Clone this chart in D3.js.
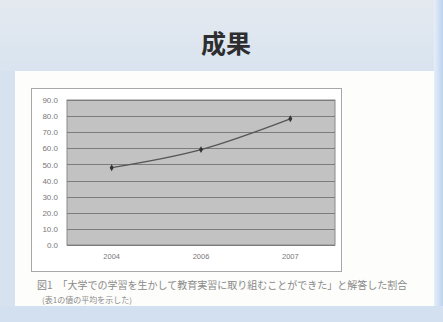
<!DOCTYPE html>
<html><head><meta charset="utf-8">
<script src="https://cdn.jsdelivr.net/npm/d3@7"></script>
<style>html,body{margin:0;padding:0;background:#fff;}svg{display:block;}</style>
</head><body>
<script>
const categories = ["2004", "2006", "2007"];
const values = [48.0, 59.2, 78.3];
const yTicks = [0, 10, 20, 30, 40, 50, 60, 70, 80, 90];
const title = "成果";
const captionLines = ["図1　「大学での学習を生かして教育実習に取り組むことができた」と解答した割合", "(表1の値の平均を示した)"];

const W = 443, H = 322;
const svg = d3.select("body").append("svg").attr("width", W).attr("height", H);
const defs = svg.append("defs");
const g1 = defs.append("linearGradient").attr("id","topband").attr("x1",0).attr("y1",0).attr("x2",0).attr("y2",1);
g1.append("stop").attr("offset","0%").attr("stop-color","#e4e9ef");
g1.append("stop").attr("offset","100%").attr("stop-color","#d9e4f0");
const g2 = defs.append("linearGradient").attr("id","rightband").attr("x1",0).attr("y1",0).attr("x2",1).attr("y2",0);
g2.append("stop").attr("offset","0%").attr("stop-color","#e6eef8");
g2.append("stop").attr("offset","100%").attr("stop-color","#bcd3ee");

// slide background
svg.append("rect").attr("width",W).attr("height",H).attr("fill","#d6e2ef");
svg.append("rect").attr("x",0).attr("y",0).attr("width",W).attr("height",71).attr("fill","url(#topband)");
svg.append("rect").attr("x",15).attr("y",71).attr("width",421).attr("height",235).attr("fill","#fdfdfb");
svg.append("rect").attr("x",434).attr("y",0).attr("width",9).attr("height",H).attr("fill","url(#rightband)");
svg.append("rect").attr("x",0).attr("y",306).attr("width",W).attr("height",16).attr("fill","#d3e0ef");

svg.append("text").attr("x",226).attr("y",53).attr("text-anchor","middle")
  .attr("font-family","Noto Sans CJK JP").attr("font-weight","bold").attr("font-size",25)
  .attr("fill","#2e2e2e").text(title);

// chart frame
svg.append("rect").attr("x",31.5).attr("y",88.5).attr("width",310).attr("height",183)
  .attr("fill","#ffffff").attr("stroke","#a8a8a8").attr("stroke-width",1);

const plot = {l:67, r:335, t:100, b:245};
const x = d3.scaleBand().domain(categories).range([plot.l, plot.r]);
const y = d3.scaleLinear().domain([0, 90]).range([plot.b, plot.t]);

svg.append("rect").attr("x",plot.l).attr("y",plot.t).attr("width",plot.r-plot.l).attr("height",plot.b-plot.t)
  .attr("fill","#c2c2c2").attr("stroke","#8a8a8a").attr("stroke-width",1);

svg.append("g").selectAll("line").data(yTicks).join("line")
  .attr("x1",plot.l).attr("x2",plot.r).attr("y1",d=>Math.round(y(d))+0.5).attr("y2",d=>Math.round(y(d))+0.5)
  .attr("stroke","#7c7c7c").attr("stroke-width",1);

const yAxis = svg.append("g").attr("transform",`translate(${plot.l},0)`)
  .call(d3.axisLeft(y).tickValues(yTicks).tickFormat(d3.format(".1f")).tickSize(0).tickPadding(9));
yAxis.select(".domain").remove();
yAxis.selectAll("text").attr("font-family","Liberation Sans").attr("font-size",8).attr("fill","#777");

const xAxis = svg.append("g").attr("transform",`translate(0,${plot.b})`)
  .call(d3.axisBottom(x).tickSize(0).tickPadding(9));
xAxis.select(".domain").remove();
xAxis.selectAll("text").attr("font-family","Liberation Sans").attr("font-size",7.5).attr("fill","#777");

const line = d3.line().x((d,i)=>x(categories[i])+x.bandwidth()/2).y(d=>y(d)).curve(d3.curveMonotoneX);
svg.append("path").datum(values).attr("d",line).attr("fill","none").attr("stroke","#555").attr("stroke-width",1.2);
svg.append("g").selectAll("path").data(values).join("path")
  .attr("transform",(d,i)=>`translate(${x(categories[i])+x.bandwidth()/2},${y(d)})`)
  .attr("d", d3.symbol(d3.symbolDiamond, 14)).attr("fill","#333");

svg.append("g").selectAll("text").data(captionLines).join("text")
  .attr("x",(d,i)=>i===0?37:42).attr("y",(d,i)=>i===0?289:303)
  .attr("font-family","Noto Sans CJK JP").attr("font-size",(d,i)=>i===0?10:8)
  .attr("fill","#8a8a8a")
  .text(d=>d);
</script>
</body></html>
